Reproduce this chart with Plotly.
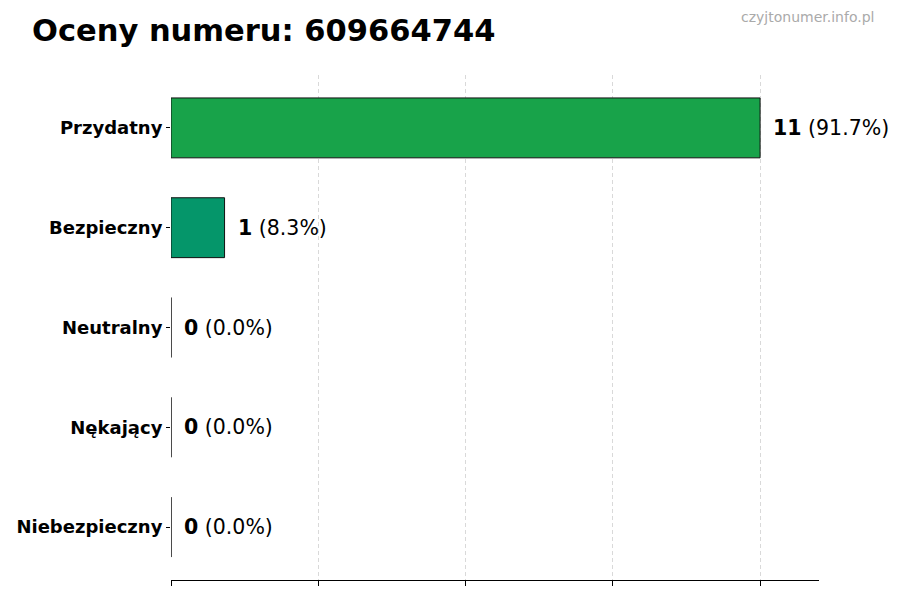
import plotly.graph_objects as go

# ratings for the number, top to bottom
categories = ["Przydatny", "Bezpieczny", "Neutralny", "Nękający", "Niebezpieczny"]
counts = [11, 1, 0, 0, 0]
percents = [91.7, 8.3, 0.0, 0.0, 0.0]
colors = ["#18a34a", "#05966a", "#9ca3af", "#f59e0b", "#dc2626"]

title = "Oceny numeru: 609664744"
watermark = "czyjtonumer.info.pl"

max_val = max(counts)
x_ticks = [max_val * i / 4 for i in range(5)]

W, H = 900, 600
L, R, T, B = 171, 81, 75, 20
plot_w = W - L - R
plot_h = H - T - B

fig = go.Figure(go.Bar(
    x=counts,
    y=categories,
    orientation="h",
    width=0.6,
    marker=dict(color=colors, line=dict(color="#111111", width=1)),
    hoverinfo="skip",
))

# value labels to the right of each bar
for cat, n, p in zip(categories, counts, percents):
    fig.add_annotation(
        x=n, y=cat, xref="x", yref="y",
        text=f"<b>{n}</b> ({p:.1f}%)",
        showarrow=False, xanchor="left", yanchor="middle",
        xshift=11, font=dict(size=20.5, color="black"),
    )

# watermark, top right
fig.add_annotation(
    x=(876 - L) / plot_w, y=(H - B - 17) / plot_h,
    xref="paper", yref="paper", xanchor="right", yanchor="middle",
    showarrow=False, text=watermark,
    font=dict(size=14, color="#aaaaaa"),
)

fig.update_layout(
    width=W, height=H,
    margin=dict(l=L, r=R, t=T, b=B),
    paper_bgcolor="white", plot_bgcolor="white",
    font=dict(family="DejaVu Sans", color="black"),
    showlegend=False,
    title=dict(text=f"<b>{title}</b>", x=32 / W, xanchor="left",
               y=1 - 30 / H, yanchor="middle",
               font=dict(size=30.5, color="black")),
)

fig.update_xaxes(
    range=[0, max_val * 1.1],
    tickvals=x_ticks, showticklabels=False,
    ticks="outside", ticklen=5, tickcolor="black",
    showline=True, linecolor="black", linewidth=1,
    showgrid=True, gridcolor="#d9d9d9", griddash="4px,3px", gridwidth=1,
    zeroline=False,
)
fig.update_yaxes(
    range=[len(categories) - 1 + 0.53, -0.53],
    tickvals=categories, ticktext=[f"<b>{c}</b>" for c in categories],
    ticks="outside", ticklen=4, tickcolor="black",
    showline=False, showgrid=False,
    tickfont=dict(size=18, color="black"),
)

# drop the page's default body margin so the figure sits at the window corner
fig.write_html("out.html", config={"displayModeBar": False},
               post_script="document.body.style.margin = '0';")
